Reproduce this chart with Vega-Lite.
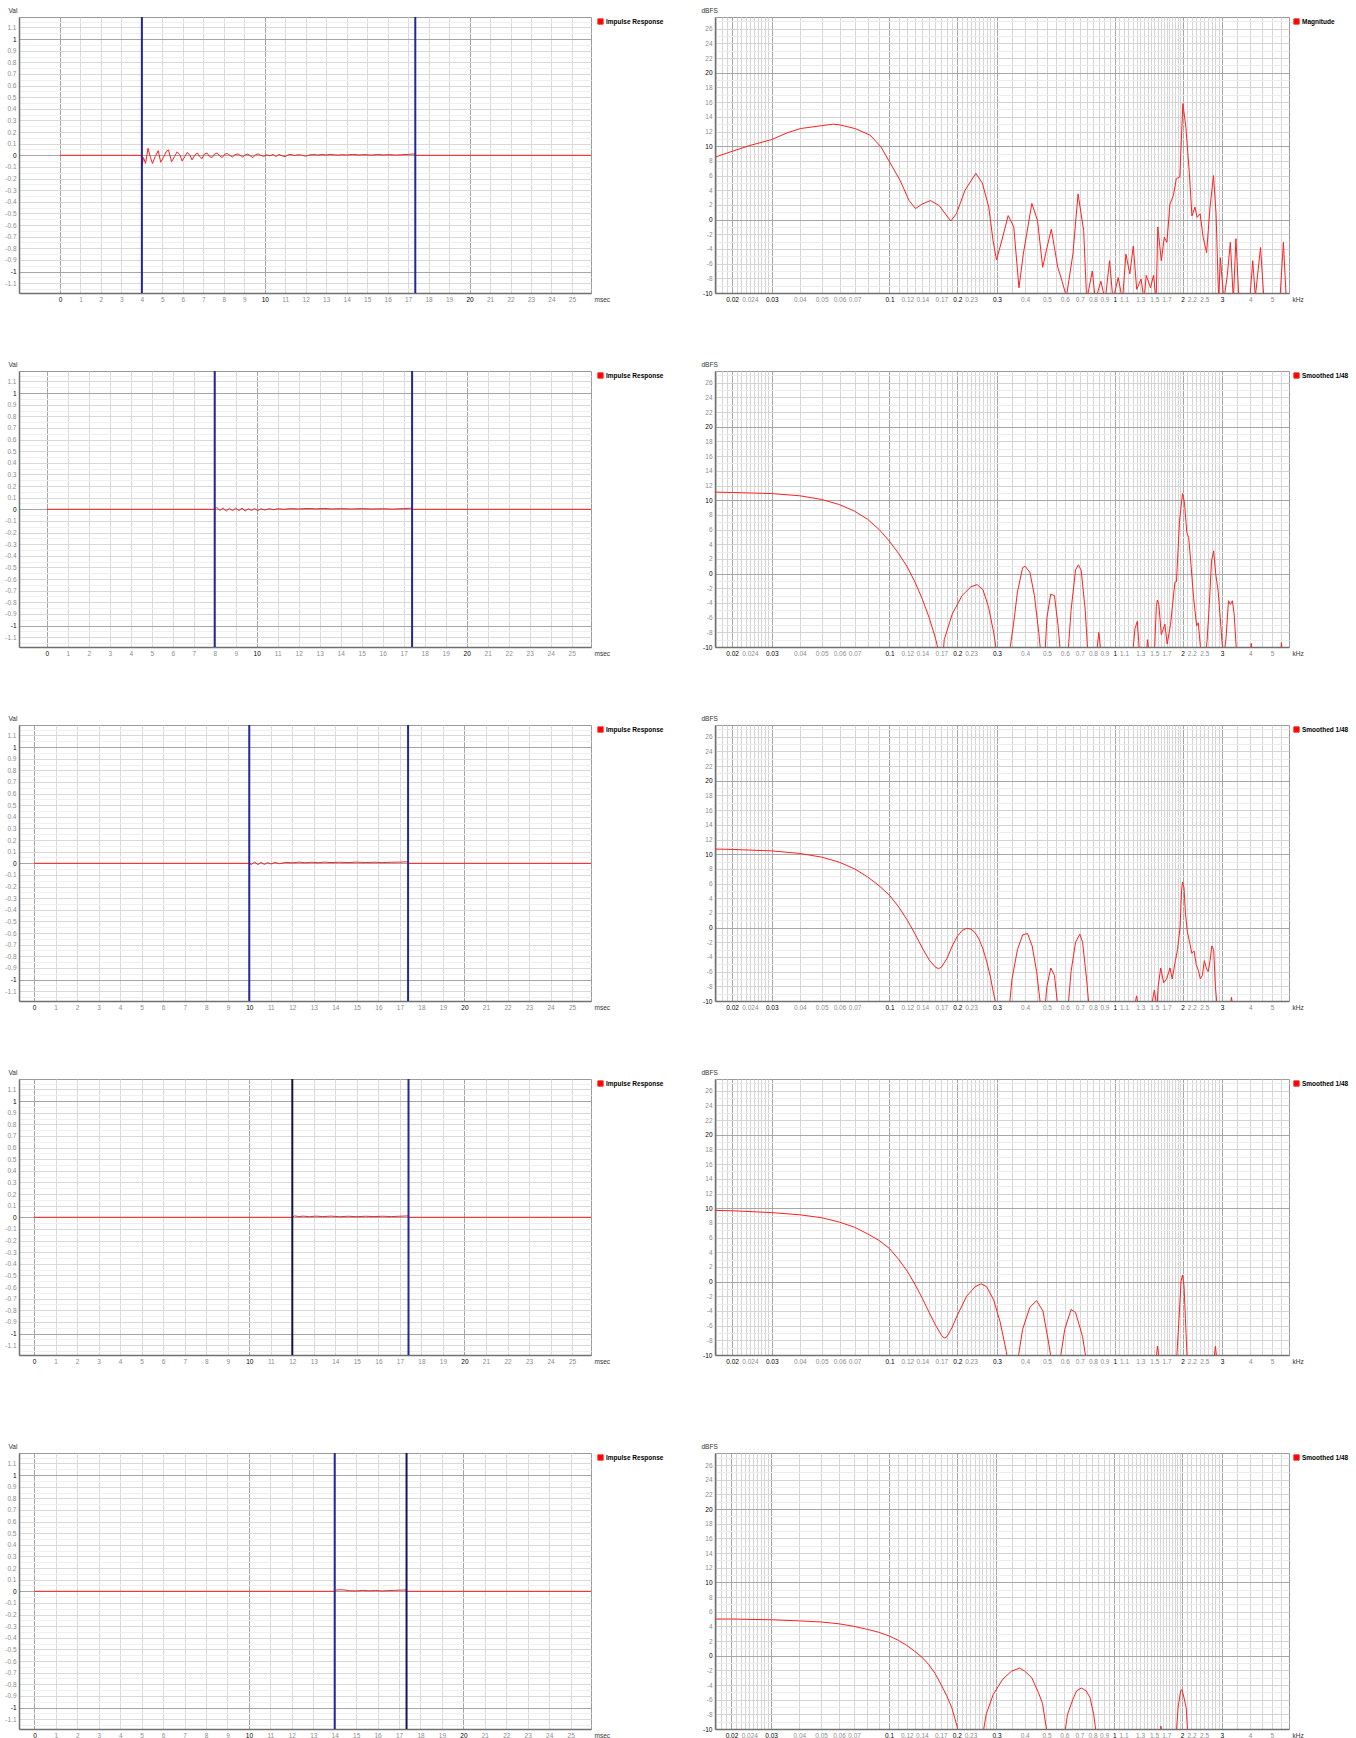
{
"$schema": "https://vega.github.io/schema/vega-lite/v6.json",
"background": "white",
"padding": {"left": 4, "top": 6, "right": 0, "bottom": 0},
"config": {
 "view": {"stroke": "#9a9a9a", "strokeWidth": 1},
 "axis": {"labelFont": "Liberation Sans", "labelFontSize": 6.5, "ticks": false, "domainColor": "#707070", "domainWidth": 1.5, "labelOverlap": false, "labelSeparation": 0, "labelBound": false, "labelFlush": false, "titleFont": "Liberation Sans", "titleFontSize": 6.5, "titleFontWeight": "normal", "titleColor": "#333333", "gridWidth": 1, "gridOpacity": 1},
 "legend": {"labelFont": "Liberation Sans", "labelFontSize": 6.5, "labelFontWeight": "bold", "labelColor": "#000000", "symbolType": "square", "symbolSize": 28, "symbolFillColor": "#ff0000", "symbolStrokeColor": "#ff0000", "symbolStrokeWidth": 1, "labelOffset": 2, "padding": 0, "title": null}
},
"datasets": {
 "ir1": [{"t":0,"v":0},{"t":4,"v":0},{"t":4.0,"v":-0.095},{"t":4.08,"v":-0.02},{"t":4.18,"v":-0.07},{"t":4.3,"v":0.06},{"t":4.42,"v":-0.02},{"t":4.52,"v":-0.07},{"t":4.65,"v":-0.01},{"t":4.8,"v":0.04},{"t":4.92,"v":-0.06},{"t":5.05,"v":-0.02},{"t":5.2,"v":0.035},{"t":5.3,"v":0.045},{"t":5.45,"v":-0.055},{"t":5.6,"v":-0.01},{"t":5.72,"v":0.03},{"t":5.85,"v":0.005},{"t":5.97,"v":-0.05},{"t":6.1,"v":-0.01},{"t":6.22,"v":0.025},{"t":6.35,"v":0.0},{"t":6.45,"v":-0.04},{"t":6.58,"v":0.0},{"t":6.7,"v":0.02},{"t":6.82,"v":-0.01},{"t":6.93,"v":-0.03},{"t":7.05,"v":0.01},{"t":7.18,"v":0.02},{"t":7.3,"v":-0.01},{"t":7.42,"v":-0.02},{"t":7.55,"v":0.01},{"t":7.68,"v":0.02},{"t":7.8,"v":-0.005},{"t":7.92,"v":-0.02},{"t":8.05,"v":0.01},{"t":8.18,"v":0.015},{"t":8.3,"v":0.0},{"t":8.42,"v":-0.015},{"t":8.55,"v":0.005},{"t":8.68,"v":0.012},{"t":8.8,"v":0.0},{"t":8.92,"v":-0.015},{"t":9.05,"v":0.005},{"t":9.17,"v":0.01},{"t":9.3,"v":-0.005},{"t":9.42,"v":-0.02},{"t":9.55,"v":0.005},{"t":9.68,"v":0.012},{"t":9.8,"v":0.0},{"t":9.95,"v":-0.01},{"t":10.1,"v":0.005},{"t":10.25,"v":-0.005},{"t":10.4,"v":0.008},{"t":10.55,"v":-0.01},{"t":10.7,"v":0.008},{"t":10.85,"v":-0.005},{"t":11.0,"v":-0.012},{"t":11.15,"v":0.005},{"t":11.3,"v":0.008},{"t":11.45,"v":-0.002},{"t":11.6,"v":0.005},{"t":11.8,"v":0.002},{"t":12.0,"v":-0.008},{"t":12.2,"v":0.004},{"t":12.4,"v":0.006},{"t":12.6,"v":0.002},{"t":12.8,"v":0.007},{"t":13.0,"v":0.003},{"t":13.2,"v":0.008},{"t":13.4,"v":0.004},{"t":13.6,"v":0.002},{"t":13.8,"v":0.006},{"t":14.0,"v":0.003},{"t":14.3,"v":0.008},{"t":14.6,"v":0.003},{"t":14.9,"v":0.006},{"t":15.2,"v":0.002},{"t":15.5,"v":0.007},{"t":15.8,"v":0.003},{"t":16.1,"v":0.006},{"t":16.4,"v":0.002},{"t":16.7,"v":0.005},{"t":17.0,"v":0.008},{"t":17.35,"v":0.012},{"t":17.36,"v":0},{"t":26.5,"v":0}],
 "ir2": [{"t":0,"v":0},{"t":8.0,"v":0.0},{"t":8.1,"v":0.015},{"t":8.25,"v":-0.01},{"t":8.4,"v":0.012},{"t":8.55,"v":-0.015},{"t":8.7,"v":0.008},{"t":8.85,"v":-0.012},{"t":9.0,"v":0.01},{"t":9.15,"v":-0.012},{"t":9.3,"v":0.01},{"t":9.45,"v":-0.015},{"t":9.6,"v":0.005},{"t":9.75,"v":-0.01},{"t":9.9,"v":0.006},{"t":10.05,"v":-0.012},{"t":10.2,"v":0.004},{"t":10.4,"v":-0.006},{"t":10.6,"v":0.006},{"t":10.8,"v":-0.004},{"t":11.0,"v":0.005},{"t":11.3,"v":0.0},{"t":11.6,"v":0.006},{"t":12.0,"v":0.003},{"t":12.4,"v":0.007},{"t":12.8,"v":0.004},{"t":13.2,"v":0.007},{"t":13.6,"v":0.003},{"t":14.0,"v":0.006},{"t":14.5,"v":0.003},{"t":15.0,"v":0.006},{"t":15.5,"v":0.003},{"t":16.0,"v":0.005},{"t":16.5,"v":0.002},{"t":17.0,"v":0.006},{"t":17.4,"v":0.01},{"t":17.41,"v":0},{"t":26.5,"v":0}],
 "ir3": [{"t":0,"v":0},{"t":10.0,"v":0.0},{"t":10.1,"v":-0.01},{"t":10.25,"v":0.012},{"t":10.4,"v":-0.012},{"t":10.55,"v":0.008},{"t":10.7,"v":-0.01},{"t":10.85,"v":0.006},{"t":11.0,"v":-0.006},{"t":11.2,"v":0.007},{"t":11.4,"v":-0.003},{"t":11.7,"v":0.008},{"t":12.0,"v":0.004},{"t":12.3,"v":0.01},{"t":12.6,"v":0.005},{"t":12.9,"v":0.009},{"t":13.2,"v":0.005},{"t":13.5,"v":0.01},{"t":13.8,"v":0.006},{"t":14.2,"v":0.009},{"t":14.6,"v":0.006},{"t":15.0,"v":0.01},{"t":15.4,"v":0.006},{"t":15.8,"v":0.009},{"t":16.2,"v":0.006},{"t":16.6,"v":0.009},{"t":17.0,"v":0.01},{"t":17.38,"v":0.013},{"t":17.39,"v":0},{"t":26.5,"v":0}],
 "ir4": [{"t":0,"v":0},{"t":12.0,"v":0.0},{"t":12.1,"v":0.012},{"t":12.3,"v":0.006},{"t":12.5,"v":0.01},{"t":12.8,"v":0.005},{"t":13.1,"v":0.01},{"t":13.4,"v":0.006},{"t":13.8,"v":0.01},{"t":14.2,"v":0.005},{"t":14.6,"v":0.009},{"t":15.0,"v":0.005},{"t":15.4,"v":0.009},{"t":15.8,"v":0.006},{"t":16.2,"v":0.009},{"t":16.6,"v":0.006},{"t":17.0,"v":0.009},{"t":17.4,"v":0.012},{"t":17.41,"v":0},{"t":26.5,"v":0}],
 "ir5": [{"t":0,"v":0},{"t":14.0,"v":0.0},{"t":14.1,"v":0.012},{"t":14.4,"v":0.012},{"t":14.7,"v":0.005},{"t":15.0,"v":0.003},{"t":15.3,"v":0.008},{"t":15.6,"v":0.004},{"t":15.9,"v":0.007},{"t":16.2,"v":0.003},{"t":16.5,"v":0.006},{"t":16.8,"v":0.008},{"t":17.1,"v":0.01},{"t":17.33,"v":0.012},{"t":17.34,"v":0},{"t":26.5,"v":0}],
 "mk1": [{"t":4,"c":"#25259c"},{"t":17.35,"c":"#25259c"}],
 "mk2": [{"t":8,"c":"#25259c"},{"t":17.4,"c":"#25259c"}],
 "mk3": [{"t":10,"c":"#25259c"},{"t":17.38,"c":"#25259c"}],
 "mk4": [{"t":12,"c":"#141440"},{"t":17.4,"c":"#25259c"}],
 "mk5": [{"t":14,"c":"#25259c"},{"t":17.35,"c":"#15155e"}],
 "fr1": [{"f":0.0168,"db":8.5},{"f":0.02,"db":9.3},{"f":0.024,"db":10.1},{"f":0.03,"db":10.9},{"f":0.035,"db":11.8},{"f":0.0402,"db":12.4},{"f":0.0501,"db":12.8},{"f":0.0564,"db":13.0},{"f":0.0603,"db":12.9},{"f":0.0704,"db":12.4},{"f":0.0821,"db":11.5},{"f":0.0917,"db":9.9},{"f":0.1001,"db":7.85},{"f":0.1117,"db":5.3},{"f":0.1221,"db":2.6},{"f":0.1304,"db":1.5},{"f":0.1393,"db":2.1},{"f":0.1522,"db":2.6},{"f":0.1662,"db":1.9},{"f":0.1872,"db":-0.2},{"f":0.1982,"db":0.8},{"f":0.2165,"db":4.0},{"f":0.2417,"db":6.3},{"f":0.2583,"db":5.0},{"f":0.2759,"db":1.7},{"f":0.2884,"db":-2.9},{"f":0.2987,"db":-5.5},{"f":0.3149,"db":-2.9},{"f":0.3365,"db":0.55},{"f":0.3563,"db":-1.0},{"f":0.3757,"db":-9.3},{"f":0.3927,"db":-4.7},{"f":0.4287,"db":2.2},{"f":0.4541,"db":-0.1},{"f":0.4789,"db":-6.5},{"f":0.5005,"db":-3.8},{"f":0.5231,"db":-1.3},{"f":0.5587,"db":-6.5},{"f":0.5839,"db":-8.4},{"f":0.6103,"db":-10.5},{"f":0.6521,"db":-4.7},{"f":0.6874,"db":3.5},{"f":0.728,"db":-1.5},{"f":0.7509,"db":-11},{"f":0.7954,"db":-7},{"f":0.8202,"db":-11},{"f":0.8683,"db":-8.4},{"f":0.9076,"db":-11},{"f":0.9484,"db":-5.6},{"f":0.9825,"db":-11},{"f":1.036,"db":-7.9},{"f":1.083,"db":-11},{"f":1.121,"db":-4.7},{"f":1.167,"db":-7.4},{"f":1.209,"db":-3.6},{"f":1.252,"db":-9.5},{"f":1.309,"db":-8.1},{"f":1.35,"db":-11},{"f":1.38,"db":-7.6},{"f":1.442,"db":-9.3},{"f":1.487,"db":-7.6},{"f":1.527,"db":-11},{"f":1.554,"db":-1.0},{"f":1.61,"db":-5.6},{"f":1.66,"db":-2.4},{"f":1.705,"db":-3.1},{"f":1.759,"db":2.1},{"f":1.822,"db":3.3},{"f":1.878,"db":5.6},{"f":1.946,"db":5.8},{"f":2.007,"db":15.8},{"f":2.07,"db":12.6},{"f":2.145,"db":6.3},{"f":2.202,"db":0.5},{"f":2.271,"db":1.7},{"f":2.322,"db":0.3},{"f":2.394,"db":0.8},{"f":2.47,"db":-2.4},{"f":2.558,"db":-4.5},{"f":2.65,"db":1.7},{"f":2.745,"db":6.0},{"f":2.818,"db":0.8},{"f":2.894,"db":-11},{"f":2.945,"db":-5.2},{"f":3.051,"db":-11},{"f":3.161,"db":-7.6},{"f":3.261,"db":-3.1},{"f":3.363,"db":-11},{"f":3.453,"db":-2.6},{"f":3.561,"db":-11},{"f":3.975,"db":-11},{"f":4.1,"db":-5.6},{"f":4.21,"db":-10.5},{"f":4.44,"db":-3.8},{"f":4.6,"db":-11},{"f":5.41,"db":-11},{"f":5.61,"db":-3.1},{"f":5.78,"db":-11},{"f":5.94,"db":-11}],
 "fr2": [{"f":0.0168,"db":11.1},{"f":0.02,"db":11.05},{"f":0.03,"db":10.9},{"f":0.04,"db":10.6},{"f":0.05,"db":10.1},{"f":0.06,"db":9.4},{"f":0.07,"db":8.5},{"f":0.08,"db":7.4},{"f":0.09,"db":6.0},{"f":0.1,"db":4.4},{"f":0.11,"db":2.7},{"f":0.12,"db":0.9},{"f":0.13,"db":-1.2},{"f":0.14,"db":-3.5},{"f":0.15,"db":-6},{"f":0.16,"db":-8.8},{"f":0.165,"db":-10.5},{"f":0.168,"db":-12},{"f":0.172,"db":-12},{"f":0.175,"db":-9},{"f":0.19,"db":-5.5},{"f":0.21,"db":-3},{"f":0.23,"db":-1.8},{"f":0.245,"db":-1.5},{"f":0.26,"db":-2.2},{"f":0.275,"db":-4.5},{"f":0.29,"db":-8},{"f":0.3,"db":-11},{"f":0.34,"db":-11},{"f":0.355,"db":-7},{"f":0.37,"db":-2.5},{"f":0.39,"db":0.8},{"f":0.4,"db":1.0},{"f":0.42,"db":0.2},{"f":0.44,"db":-3},{"f":0.46,"db":-8},{"f":0.47,"db":-11},{"f":0.49,"db":-11},{"f":0.5,"db":-6},{"f":0.52,"db":-2.8},{"f":0.54,"db":-3},{"f":0.56,"db":-7},{"f":0.575,"db":-11},{"f":0.62,"db":-11},{"f":0.64,"db":-5},{"f":0.67,"db":0.5},{"f":0.69,"db":1.2},{"f":0.71,"db":0.4},{"f":0.74,"db":-5},{"f":0.76,"db":-11},{"f":0.83,"db":-11},{"f":0.85,"db":-8},{"f":0.87,"db":-11},{"f":1.2,"db":-11},{"f":1.23,"db":-7.5},{"f":1.26,"db":-6.5},{"f":1.29,"db":-11},{"f":1.38,"db":-11},{"f":1.4,"db":-9},{"f":1.42,"db":-11},{"f":1.5,"db":-11},{"f":1.53,"db":-4.5},{"f":1.547,"db":-3.6},{"f":1.57,"db":-4.2},{"f":1.61,"db":-8.3},{"f":1.67,"db":-6.9},{"f":1.71,"db":-9.6},{"f":1.77,"db":-6.9},{"f":1.85,"db":-1.2},{"f":1.88,"db":-1.1},{"f":1.94,"db":7.2},{"f":2.0,"db":10.9},{"f":2.04,"db":9.7},{"f":2.09,"db":5.6},{"f":2.13,"db":4.9},{"f":2.18,"db":1.3},{"f":2.24,"db":-3.3},{"f":2.31,"db":-7.1},{"f":2.35,"db":-6.7},{"f":2.4,"db":-9.9},{"f":2.45,"db":-11},{"f":2.53,"db":-11},{"f":2.57,"db":-9.2},{"f":2.63,"db":-4.2},{"f":2.69,"db":1.7},{"f":2.75,"db":3.1},{"f":2.81,"db":-0.1},{"f":2.88,"db":-2.4},{"f":2.94,"db":-6},{"f":3.0,"db":-9.6},{"f":3.06,"db":-11},{"f":3.12,"db":-8.8},{"f":3.2,"db":-3.7},{"f":3.26,"db":-4.2},{"f":3.33,"db":-3.7},{"f":3.39,"db":-5.5},{"f":3.47,"db":-10.5},{"f":3.5,"db":-11},{"f":4.0,"db":-11},{"f":4.04,"db":-9.5},{"f":4.08,"db":-11},{"f":5.45,"db":-11},{"f":5.5,"db":-9.4},{"f":5.55,"db":-11},{"f":5.94,"db":-11}],
 "fr3": [{"f":0.0168,"db":10.7},{"f":0.02,"db":10.65},{"f":0.03,"db":10.45},{"f":0.04,"db":10.1},{"f":0.05,"db":9.6},{"f":0.06,"db":8.9},{"f":0.07,"db":8.0},{"f":0.08,"db":6.9},{"f":0.09,"db":5.7},{"f":0.1,"db":4.4},{"f":0.11,"db":2.8},{"f":0.12,"db":1.0},{"f":0.13,"db":-0.9},{"f":0.14,"db":-2.8},{"f":0.15,"db":-4.4},{"f":0.16,"db":-5.4},{"f":0.165,"db":-5.6},{"f":0.17,"db":-5.4},{"f":0.18,"db":-4.2},{"f":0.19,"db":-2.5},{"f":0.2,"db":-1.2},{"f":0.21,"db":-0.4},{"f":0.22,"db":-0.1},{"f":0.23,"db":-0.2},{"f":0.24,"db":-0.7},{"f":0.25,"db":-1.6},{"f":0.26,"db":-2.9},{"f":0.27,"db":-4.6},{"f":0.28,"db":-6.6},{"f":0.29,"db":-9},{"f":0.3,"db":-11},{"f":0.34,"db":-11},{"f":0.35,"db":-7},{"f":0.37,"db":-3},{"f":0.39,"db":-1.0},{"f":0.41,"db":-0.8},{"f":0.43,"db":-2.5},{"f":0.45,"db":-6},{"f":0.47,"db":-11},{"f":0.49,"db":-11},{"f":0.5,"db":-8},{"f":0.52,"db":-5.5},{"f":0.54,"db":-6.5},{"f":0.56,"db":-11},{"f":0.62,"db":-11},{"f":0.64,"db":-6},{"f":0.67,"db":-2},{"f":0.7,"db":-0.9},{"f":0.72,"db":-2},{"f":0.75,"db":-7},{"f":0.77,"db":-11},{"f":1.22,"db":-11},{"f":1.25,"db":-9.3},{"f":1.28,"db":-11},{"f":1.45,"db":-11},{"f":1.5,"db":-8.5},{"f":1.54,"db":-11},{"f":1.56,"db":-8},{"f":1.6,"db":-5.5},{"f":1.65,"db":-7.5},{"f":1.7,"db":-7},{"f":1.76,"db":-5.5},{"f":1.8,"db":-7},{"f":1.86,"db":-4.5},{"f":1.9,"db":-3},{"f":1.95,"db":0},{"f":1.98,"db":5},{"f":2.0,"db":6.2},{"f":2.03,"db":5.5},{"f":2.06,"db":2},{"f":2.1,"db":-0.5},{"f":2.15,"db":-2},{"f":2.2,"db":-3.5},{"f":2.25,"db":-3.2},{"f":2.3,"db":-5},{"f":2.35,"db":-5.8},{"f":2.4,"db":-7},{"f":2.45,"db":-6.5},{"f":2.5,"db":-4.5},{"f":2.55,"db":-5.5},{"f":2.6,"db":-6},{"f":2.65,"db":-4.5},{"f":2.7,"db":-2.5},{"f":2.75,"db":-3},{"f":2.8,"db":-8},{"f":2.85,"db":-11},{"f":3.25,"db":-11},{"f":3.3,"db":-9.5},{"f":3.35,"db":-11},{"f":5.94,"db":-11}],
 "fr4": [{"f":0.0168,"db":9.7},{"f":0.02,"db":9.65},{"f":0.03,"db":9.4},{"f":0.04,"db":9.1},{"f":0.05,"db":8.7},{"f":0.06,"db":8.1},{"f":0.07,"db":7.4},{"f":0.08,"db":6.5},{"f":0.09,"db":5.6},{"f":0.1,"db":4.5},{"f":0.11,"db":3.0},{"f":0.12,"db":1.4},{"f":0.13,"db":-0.4},{"f":0.14,"db":-2.3},{"f":0.15,"db":-4.2},{"f":0.16,"db":-5.9},{"f":0.17,"db":-7.3},{"f":0.175,"db":-7.7},{"f":0.18,"db":-7.5},{"f":0.19,"db":-6.2},{"f":0.2,"db":-4.6},{"f":0.22,"db":-2.0},{"f":0.24,"db":-0.7},{"f":0.255,"db":-0.3},{"f":0.27,"db":-0.7},{"f":0.29,"db":-2.5},{"f":0.31,"db":-5.5},{"f":0.33,"db":-9.5},{"f":0.335,"db":-11},{"f":0.37,"db":-11},{"f":0.39,"db":-6.5},{"f":0.42,"db":-3.5},{"f":0.45,"db":-2.6},{"f":0.48,"db":-4},{"f":0.51,"db":-8.5},{"f":0.525,"db":-11},{"f":0.57,"db":-11},{"f":0.6,"db":-6.5},{"f":0.64,"db":-3.8},{"f":0.67,"db":-4.2},{"f":0.72,"db":-7.5},{"f":0.75,"db":-11},{"f":1.52,"db":-11},{"f":1.55,"db":-8.8},{"f":1.58,"db":-11},{"f":1.88,"db":-11},{"f":1.93,"db":-5},{"f":1.97,"db":0},{"f":2.0,"db":0.9},{"f":2.03,"db":-0.5},{"f":2.06,"db":-5},{"f":2.1,"db":-11},{"f":2.75,"db":-11},{"f":2.8,"db":-8.8},{"f":2.85,"db":-11},{"f":5.94,"db":-11}],
 "fr5": [{"f":0.0168,"db":5.0},{"f":0.02,"db":5.0},{"f":0.03,"db":4.9},{"f":0.04,"db":4.75},{"f":0.05,"db":4.6},{"f":0.06,"db":4.35},{"f":0.07,"db":4.0},{"f":0.08,"db":3.6},{"f":0.09,"db":3.2},{"f":0.1,"db":2.7},{"f":0.11,"db":2.1},{"f":0.12,"db":1.4},{"f":0.13,"db":0.6},{"f":0.14,"db":-0.2},{"f":0.15,"db":-1.2},{"f":0.16,"db":-2.4},{"f":0.17,"db":-3.9},{"f":0.18,"db":-5.4},{"f":0.19,"db":-7.1},{"f":0.2,"db":-9.5},{"f":0.205,"db":-11},{"f":0.26,"db":-11},{"f":0.27,"db":-8},{"f":0.29,"db":-5.3},{"f":0.32,"db":-3.2},{"f":0.35,"db":-2.1},{"f":0.38,"db":-1.7},{"f":0.4,"db":-2.1},{"f":0.43,"db":-3.0},{"f":0.46,"db":-5},{"f":0.48,"db":-6.5},{"f":0.5,"db":-10},{"f":0.505,"db":-11},{"f":0.6,"db":-11},{"f":0.62,"db":-8},{"f":0.654,"db":-6},{"f":0.68,"db":-4.8},{"f":0.714,"db":-4.4},{"f":0.75,"db":-4.8},{"f":0.78,"db":-5.7},{"f":0.81,"db":-8},{"f":0.834,"db":-11},{"f":1.59,"db":-11},{"f":1.61,"db":-9.6},{"f":1.63,"db":-11},{"f":1.88,"db":-11},{"f":1.92,"db":-7},{"f":1.97,"db":-4.8},{"f":1.994,"db":-4.6},{"f":2.03,"db":-5.5},{"f":2.085,"db":-7.1},{"f":2.12,"db":-11},{"f":5.94,"db":-11}]
},
"resolve": {"scale": {"color": "independent"}, "legend": {"color": "independent"}},
"spacing": 77,
"vconcat": [
{"spacing": 57, "resolve": {"scale": {"color": "independent"}, "legend": {"color": "independent"}},
 "vconcat": [
 {"spacing": 35, "resolve": {"scale": {"color": "independent"}, "legend": {"color": "independent"}}, "hconcat": [
  {"width": 572, "height": 276, "layer": [
   {"data": {"name": "ir1"}, "mark": {"type": "line", "clip": true, "strokeWidth": 1},
    "encoding": {
     "x": {"field": "t", "type": "quantitative", "scale": {"domain": [-2.0, 25.93], "nice": false, "zero": false},
      "axis": {"values": [0,1,2,3,4,5,6,7,8,9,10,11,12,13,14,15,16,17,18,19,20,21,22,23,24,25], "labelExpr": "'' + datum.value", "labelOverlap": false, "grid": true, "gridColor": {"condition": {"test": "datum.value % 10 == 0", "value": "#a6a6a6"}, "value": "#dadada"}, "labelColor": {"condition": {"test": "datum.value % 10 == 0", "value": "#000000"}, "value": "#8c8c8c"}, "labelPadding": 3, "title": "msec", "titleX": 575, "titleY": 3, "titleAlign": "left", "titleBaseline": "top"}},
     "y": {"field": "v", "type": "quantitative", "scale": {"domain": [-1.185, 1.19], "nice": false, "zero": false},
      "axis": {"values": [-1.15,-1.1,-1.05,-1,-0.95,-0.9,-0.85,-0.8,-0.75,-0.7,-0.65,-0.6,-0.55,-0.5,-0.45,-0.4,-0.35,-0.3,-0.25,-0.2,-0.15,-0.1,-0.05,0,0.05,0.1,0.15,0.2,0.25,0.3,0.35,0.4,0.45,0.5,0.55,0.6,0.65,0.7,0.75,0.8,0.85,0.9,0.95,1,1.05,1.1,1.15], "labelOverlap": false, "grid": true, "gridColor": {"condition": [{"test": "abs(datum.value) == 1 || datum.value == 0", "value": "#a6a6a6"}, {"test": "abs(round(datum.value*100)) % 10 == 5", "value": "#efefef"}], "value": "#d9d9d9"}, "labelExpr": "abs(round(datum.value*100)) % 10 == 5 ? '' : '' + datum.value", "labelColor": {"condition": {"test": "abs(datum.value) == 1 || datum.value == 0", "value": "#000000"}, "value": "#8c8c8c"}, "labelPadding": 3, "title": "Val", "titleAngle": 0, "titleX": -11, "titleY": -5, "titleAlign": "left", "titleBaseline": "alphabetic"}},
     "color": {"datum": "Impulse Response", "type": "nominal", "scale": {"range": ["#ff2020"]}, "legend": {"orient": "none", "legendX": 578, "legendY": 1}}
    }},
   {"data": {"name": "mk1"}, "mark": {"type": "rule", "strokeWidth": 2}, "encoding": {"x": {"field": "t", "type": "quantitative", "axis": {"values": [0,1,2,3,4,5,6,7,8,9,10,11,12,13,14,15,16,17,18,19,20,21,22,23,24,25], "labelExpr": "'' + datum.value", "labelOverlap": false, "grid": true, "gridColor": {"condition": {"test": "datum.value % 10 == 0", "value": "#a6a6a6"}, "value": "#dadada"}, "labelColor": {"condition": {"test": "datum.value % 10 == 0", "value": "#000000"}, "value": "#8c8c8c"}, "labelPadding": 3, "title": "msec", "titleX": 575, "titleY": 3, "titleAlign": "left", "titleBaseline": "top"}}, "stroke": {"field": "c", "type": "nominal", "scale": null}}}
  ]},
  {"width": 574, "height": 276, "layer": [
   {"data": {"name": "fr1"}, "mark": {"type": "line", "clip": true, "strokeWidth": 1},
    "encoding": {
     "x": {"field": "f", "type": "quantitative", "scale": {"type": "log", "domain": [0.0168, 5.94], "nice": false},
      "axis": {"values": [0.017,0.018,0.019,0.02,0.021,0.022,0.023,0.024,0.025,0.026,0.027,0.028,0.029,0.03,0.04,0.05,0.06,0.07,0.08,0.09,0.1,0.11,0.12,0.13,0.14,0.15,0.16,0.17,0.18,0.19,0.2,0.21,0.22,0.23,0.24,0.25,0.26,0.27,0.28,0.29,0.3,0.35,0.4,0.45,0.5,0.55,0.6,0.65,0.7,0.75,0.8,0.85,0.9,0.95,1,1.05,1.1,1.15,1.2,1.25,1.3,1.35,1.4,1.45,1.5,1.55,1.6,1.65,1.7,1.75,1.8,1.85,1.9,1.95,2,2.1,2.2,2.3,2.4,2.5,2.6,2.7,2.8,2.9,3,3.5,4,4.5,5,5.5], "labelOverlap": false, "grid": true, "gridColor": {"condition": {"test": "indexof([0.02,0.03,0.1,0.2,0.3,1,2,3], datum.value) >= 0", "value": "#a6a6a6"}, "value": "#d6d6d6"}, "labelExpr": "indexof([0.02,0.024,0.03,0.04,0.05,0.06,0.07,0.1,0.12,0.14,0.17,0.2,0.23,0.3,0.4,0.5,0.6,0.7,0.8,0.9,1,1.1,1.3,1.5,1.7,2,2.2,2.5,3,4,5], datum.value) >= 0 ? '' + datum.value : ''", "labelColor": {"condition": {"test": "indexof([0.02,0.03,0.1,0.2,0.3,1,2,3], datum.value) >= 0", "value": "#000000"}, "value": "#8c8c8c"}, "labelPadding": 3, "title": "kHz", "titleX": 577, "titleY": 3, "titleAlign": "left", "titleBaseline": "top"}},
     "y": {"field": "db", "type": "quantitative", "scale": {"domain": [-10, 27.6], "nice": false, "zero": false},
      "axis": {"values": [-10,-9,-8,-7,-6,-5,-4,-3,-2,-1,0,1,2,3,4,5,6,7,8,9,10,11,12,13,14,15,16,17,18,19,20,21,22,23,24,25,26,27], "labelOverlap": false, "grid": true, "gridColor": {"condition": [{"test": "datum.value == 20 || datum.value == 10 || datum.value == 0", "value": "#a6a6a6"}, {"test": "abs(datum.value) % 2 == 1", "value": "#ececec"}], "value": "#d4d4d4"}, "labelExpr": "abs(datum.value) % 2 == 1 ? '' : '' + datum.value", "labelColor": {"condition": {"test": "datum.value % 10 == 0", "value": "#000000"}, "value": "#8c8c8c"}, "labelPadding": 3, "title": "dBFS", "titleAngle": 0, "titleX": -14, "titleY": -5, "titleAlign": "left", "titleBaseline": "alphabetic"}},
     "color": {"datum": "Magnitude", "type": "nominal", "scale": {"range": ["#ff2020"]}, "legend": {"orient": "none", "legendX": 578, "legendY": 1}}
    }}
  ]}
 ]},
 {"spacing": 35, "resolve": {"scale": {"color": "independent"}, "legend": {"color": "independent"}}, "hconcat": [
  {"width": 572, "height": 276, "layer": [
   {"data": {"name": "ir2"}, "mark": {"type": "line", "clip": true, "strokeWidth": 1},
    "encoding": {
     "x": {"field": "t", "type": "quantitative", "scale": {"domain": [-1.32, 25.92], "nice": false, "zero": false},
      "axis": {"values": [0,1,2,3,4,5,6,7,8,9,10,11,12,13,14,15,16,17,18,19,20,21,22,23,24,25], "labelExpr": "'' + datum.value", "labelOverlap": false, "grid": true, "gridColor": {"condition": {"test": "datum.value % 10 == 0", "value": "#a6a6a6"}, "value": "#dadada"}, "labelColor": {"condition": {"test": "datum.value % 10 == 0", "value": "#000000"}, "value": "#8c8c8c"}, "labelPadding": 3, "title": "msec", "titleX": 575, "titleY": 3, "titleAlign": "left", "titleBaseline": "top"}},
     "y": {"field": "v", "type": "quantitative", "scale": {"domain": [-1.185, 1.19], "nice": false, "zero": false},
      "axis": {"values": [-1.15,-1.1,-1.05,-1,-0.95,-0.9,-0.85,-0.8,-0.75,-0.7,-0.65,-0.6,-0.55,-0.5,-0.45,-0.4,-0.35,-0.3,-0.25,-0.2,-0.15,-0.1,-0.05,0,0.05,0.1,0.15,0.2,0.25,0.3,0.35,0.4,0.45,0.5,0.55,0.6,0.65,0.7,0.75,0.8,0.85,0.9,0.95,1,1.05,1.1,1.15], "labelOverlap": false, "grid": true, "gridColor": {"condition": [{"test": "abs(datum.value) == 1 || datum.value == 0", "value": "#a6a6a6"}, {"test": "abs(round(datum.value*100)) % 10 == 5", "value": "#efefef"}], "value": "#d9d9d9"}, "labelExpr": "abs(round(datum.value*100)) % 10 == 5 ? '' : '' + datum.value", "labelColor": {"condition": {"test": "abs(datum.value) == 1 || datum.value == 0", "value": "#000000"}, "value": "#8c8c8c"}, "labelPadding": 3, "title": "Val", "titleAngle": 0, "titleX": -11, "titleY": -5, "titleAlign": "left", "titleBaseline": "alphabetic"}},
     "color": {"datum": "Impulse Response", "type": "nominal", "scale": {"range": ["#ff2020"]}, "legend": {"orient": "none", "legendX": 578, "legendY": 1}}
    }},
   {"data": {"name": "mk2"}, "mark": {"type": "rule", "strokeWidth": 2}, "encoding": {"x": {"field": "t", "type": "quantitative", "axis": {"values": [0,1,2,3,4,5,6,7,8,9,10,11,12,13,14,15,16,17,18,19,20,21,22,23,24,25], "labelExpr": "'' + datum.value", "labelOverlap": false, "grid": true, "gridColor": {"condition": {"test": "datum.value % 10 == 0", "value": "#a6a6a6"}, "value": "#dadada"}, "labelColor": {"condition": {"test": "datum.value % 10 == 0", "value": "#000000"}, "value": "#8c8c8c"}, "labelPadding": 3, "title": "msec", "titleX": 575, "titleY": 3, "titleAlign": "left", "titleBaseline": "top"}}, "stroke": {"field": "c", "type": "nominal", "scale": null}}}
  ]},
  {"width": 574, "height": 276, "layer": [
   {"data": {"name": "fr2"}, "mark": {"type": "line", "clip": true, "strokeWidth": 1},
    "encoding": {
     "x": {"field": "f", "type": "quantitative", "scale": {"type": "log", "domain": [0.0168, 5.94], "nice": false},
      "axis": {"values": [0.017,0.018,0.019,0.02,0.021,0.022,0.023,0.024,0.025,0.026,0.027,0.028,0.029,0.03,0.04,0.05,0.06,0.07,0.08,0.09,0.1,0.11,0.12,0.13,0.14,0.15,0.16,0.17,0.18,0.19,0.2,0.21,0.22,0.23,0.24,0.25,0.26,0.27,0.28,0.29,0.3,0.35,0.4,0.45,0.5,0.55,0.6,0.65,0.7,0.75,0.8,0.85,0.9,0.95,1,1.05,1.1,1.15,1.2,1.25,1.3,1.35,1.4,1.45,1.5,1.55,1.6,1.65,1.7,1.75,1.8,1.85,1.9,1.95,2,2.1,2.2,2.3,2.4,2.5,2.6,2.7,2.8,2.9,3,3.5,4,4.5,5,5.5], "labelOverlap": false, "grid": true, "gridColor": {"condition": {"test": "indexof([0.02,0.03,0.1,0.2,0.3,1,2,3], datum.value) >= 0", "value": "#a6a6a6"}, "value": "#d6d6d6"}, "labelExpr": "indexof([0.02,0.024,0.03,0.04,0.05,0.06,0.07,0.1,0.12,0.14,0.17,0.2,0.23,0.3,0.4,0.5,0.6,0.7,0.8,0.9,1,1.1,1.3,1.5,1.7,2,2.2,2.5,3,4,5], datum.value) >= 0 ? '' + datum.value : ''", "labelColor": {"condition": {"test": "indexof([0.02,0.03,0.1,0.2,0.3,1,2,3], datum.value) >= 0", "value": "#000000"}, "value": "#8c8c8c"}, "labelPadding": 3, "title": "kHz", "titleX": 577, "titleY": 3, "titleAlign": "left", "titleBaseline": "top"}},
     "y": {"field": "db", "type": "quantitative", "scale": {"domain": [-10, 27.6], "nice": false, "zero": false},
      "axis": {"values": [-10,-9,-8,-7,-6,-5,-4,-3,-2,-1,0,1,2,3,4,5,6,7,8,9,10,11,12,13,14,15,16,17,18,19,20,21,22,23,24,25,26,27], "labelOverlap": false, "grid": true, "gridColor": {"condition": [{"test": "datum.value == 20 || datum.value == 10 || datum.value == 0", "value": "#a6a6a6"}, {"test": "abs(datum.value) % 2 == 1", "value": "#ececec"}], "value": "#d4d4d4"}, "labelExpr": "abs(datum.value) % 2 == 1 ? '' : '' + datum.value", "labelColor": {"condition": {"test": "datum.value % 10 == 0", "value": "#000000"}, "value": "#8c8c8c"}, "labelPadding": 3, "title": "dBFS", "titleAngle": 0, "titleX": -14, "titleY": -5, "titleAlign": "left", "titleBaseline": "alphabetic"}},
     "color": {"datum": "Smoothed 1/48", "type": "nominal", "scale": {"range": ["#ff2020"]}, "legend": {"orient": "none", "legendX": 578, "legendY": 1}}
    }}
  ]}
 ]},
 {"spacing": 35, "resolve": {"scale": {"color": "independent"}, "legend": {"color": "independent"}}, "hconcat": [
  {"width": 572, "height": 276, "layer": [
   {"data": {"name": "ir3"}, "mark": {"type": "line", "clip": true, "strokeWidth": 1},
    "encoding": {
     "x": {"field": "t", "type": "quantitative", "scale": {"domain": [-0.7, 25.88], "nice": false, "zero": false},
      "axis": {"values": [0,1,2,3,4,5,6,7,8,9,10,11,12,13,14,15,16,17,18,19,20,21,22,23,24,25], "labelExpr": "'' + datum.value", "labelOverlap": false, "grid": true, "gridColor": {"condition": {"test": "datum.value % 10 == 0", "value": "#a6a6a6"}, "value": "#dadada"}, "labelColor": {"condition": {"test": "datum.value % 10 == 0", "value": "#000000"}, "value": "#8c8c8c"}, "labelPadding": 3, "title": "msec", "titleX": 575, "titleY": 3, "titleAlign": "left", "titleBaseline": "top"}},
     "y": {"field": "v", "type": "quantitative", "scale": {"domain": [-1.185, 1.19], "nice": false, "zero": false},
      "axis": {"values": [-1.15,-1.1,-1.05,-1,-0.95,-0.9,-0.85,-0.8,-0.75,-0.7,-0.65,-0.6,-0.55,-0.5,-0.45,-0.4,-0.35,-0.3,-0.25,-0.2,-0.15,-0.1,-0.05,0,0.05,0.1,0.15,0.2,0.25,0.3,0.35,0.4,0.45,0.5,0.55,0.6,0.65,0.7,0.75,0.8,0.85,0.9,0.95,1,1.05,1.1,1.15], "labelOverlap": false, "grid": true, "gridColor": {"condition": [{"test": "abs(datum.value) == 1 || datum.value == 0", "value": "#a6a6a6"}, {"test": "abs(round(datum.value*100)) % 10 == 5", "value": "#efefef"}], "value": "#d9d9d9"}, "labelExpr": "abs(round(datum.value*100)) % 10 == 5 ? '' : '' + datum.value", "labelColor": {"condition": {"test": "abs(datum.value) == 1 || datum.value == 0", "value": "#000000"}, "value": "#8c8c8c"}, "labelPadding": 3, "title": "Val", "titleAngle": 0, "titleX": -11, "titleY": -5, "titleAlign": "left", "titleBaseline": "alphabetic"}},
     "color": {"datum": "Impulse Response", "type": "nominal", "scale": {"range": ["#ff2020"]}, "legend": {"orient": "none", "legendX": 578, "legendY": 1}}
    }},
   {"data": {"name": "mk3"}, "mark": {"type": "rule", "strokeWidth": 2}, "encoding": {"x": {"field": "t", "type": "quantitative", "axis": {"values": [0,1,2,3,4,5,6,7,8,9,10,11,12,13,14,15,16,17,18,19,20,21,22,23,24,25], "labelExpr": "'' + datum.value", "labelOverlap": false, "grid": true, "gridColor": {"condition": {"test": "datum.value % 10 == 0", "value": "#a6a6a6"}, "value": "#dadada"}, "labelColor": {"condition": {"test": "datum.value % 10 == 0", "value": "#000000"}, "value": "#8c8c8c"}, "labelPadding": 3, "title": "msec", "titleX": 575, "titleY": 3, "titleAlign": "left", "titleBaseline": "top"}}, "stroke": {"field": "c", "type": "nominal", "scale": null}}}
  ]},
  {"width": 574, "height": 276, "layer": [
   {"data": {"name": "fr3"}, "mark": {"type": "line", "clip": true, "strokeWidth": 1},
    "encoding": {
     "x": {"field": "f", "type": "quantitative", "scale": {"type": "log", "domain": [0.0168, 5.94], "nice": false},
      "axis": {"values": [0.017,0.018,0.019,0.02,0.021,0.022,0.023,0.024,0.025,0.026,0.027,0.028,0.029,0.03,0.04,0.05,0.06,0.07,0.08,0.09,0.1,0.11,0.12,0.13,0.14,0.15,0.16,0.17,0.18,0.19,0.2,0.21,0.22,0.23,0.24,0.25,0.26,0.27,0.28,0.29,0.3,0.35,0.4,0.45,0.5,0.55,0.6,0.65,0.7,0.75,0.8,0.85,0.9,0.95,1,1.05,1.1,1.15,1.2,1.25,1.3,1.35,1.4,1.45,1.5,1.55,1.6,1.65,1.7,1.75,1.8,1.85,1.9,1.95,2,2.1,2.2,2.3,2.4,2.5,2.6,2.7,2.8,2.9,3,3.5,4,4.5,5,5.5], "labelOverlap": false, "grid": true, "gridColor": {"condition": {"test": "indexof([0.02,0.03,0.1,0.2,0.3,1,2,3], datum.value) >= 0", "value": "#a6a6a6"}, "value": "#d6d6d6"}, "labelExpr": "indexof([0.02,0.024,0.03,0.04,0.05,0.06,0.07,0.1,0.12,0.14,0.17,0.2,0.23,0.3,0.4,0.5,0.6,0.7,0.8,0.9,1,1.1,1.3,1.5,1.7,2,2.2,2.5,3,4,5], datum.value) >= 0 ? '' + datum.value : ''", "labelColor": {"condition": {"test": "indexof([0.02,0.03,0.1,0.2,0.3,1,2,3], datum.value) >= 0", "value": "#000000"}, "value": "#8c8c8c"}, "labelPadding": 3, "title": "kHz", "titleX": 577, "titleY": 3, "titleAlign": "left", "titleBaseline": "top"}},
     "y": {"field": "db", "type": "quantitative", "scale": {"domain": [-10, 27.6], "nice": false, "zero": false},
      "axis": {"values": [-10,-9,-8,-7,-6,-5,-4,-3,-2,-1,0,1,2,3,4,5,6,7,8,9,10,11,12,13,14,15,16,17,18,19,20,21,22,23,24,25,26,27], "labelOverlap": false, "grid": true, "gridColor": {"condition": [{"test": "datum.value == 20 || datum.value == 10 || datum.value == 0", "value": "#a6a6a6"}, {"test": "abs(datum.value) % 2 == 1", "value": "#ececec"}], "value": "#d4d4d4"}, "labelExpr": "abs(datum.value) % 2 == 1 ? '' : '' + datum.value", "labelColor": {"condition": {"test": "datum.value % 10 == 0", "value": "#000000"}, "value": "#8c8c8c"}, "labelPadding": 3, "title": "dBFS", "titleAngle": 0, "titleX": -14, "titleY": -5, "titleAlign": "left", "titleBaseline": "alphabetic"}},
     "color": {"datum": "Smoothed 1/48", "type": "nominal", "scale": {"range": ["#ff2020"]}, "legend": {"orient": "none", "legendX": 578, "legendY": 1}}
    }}
  ]}
 ]},
 {"spacing": 35, "resolve": {"scale": {"color": "independent"}, "legend": {"color": "independent"}}, "hconcat": [
  {"width": 572, "height": 276, "layer": [
   {"data": {"name": "ir4"}, "mark": {"type": "line", "clip": true, "strokeWidth": 1},
    "encoding": {
     "x": {"field": "t", "type": "quantitative", "scale": {"domain": [-0.7, 25.88], "nice": false, "zero": false},
      "axis": {"values": [0,1,2,3,4,5,6,7,8,9,10,11,12,13,14,15,16,17,18,19,20,21,22,23,24,25], "labelExpr": "'' + datum.value", "labelOverlap": false, "grid": true, "gridColor": {"condition": {"test": "datum.value % 10 == 0", "value": "#a6a6a6"}, "value": "#dadada"}, "labelColor": {"condition": {"test": "datum.value % 10 == 0", "value": "#000000"}, "value": "#8c8c8c"}, "labelPadding": 3, "title": "msec", "titleX": 575, "titleY": 3, "titleAlign": "left", "titleBaseline": "top"}},
     "y": {"field": "v", "type": "quantitative", "scale": {"domain": [-1.185, 1.19], "nice": false, "zero": false},
      "axis": {"values": [-1.15,-1.1,-1.05,-1,-0.95,-0.9,-0.85,-0.8,-0.75,-0.7,-0.65,-0.6,-0.55,-0.5,-0.45,-0.4,-0.35,-0.3,-0.25,-0.2,-0.15,-0.1,-0.05,0,0.05,0.1,0.15,0.2,0.25,0.3,0.35,0.4,0.45,0.5,0.55,0.6,0.65,0.7,0.75,0.8,0.85,0.9,0.95,1,1.05,1.1,1.15], "labelOverlap": false, "grid": true, "gridColor": {"condition": [{"test": "abs(datum.value) == 1 || datum.value == 0", "value": "#a6a6a6"}, {"test": "abs(round(datum.value*100)) % 10 == 5", "value": "#efefef"}], "value": "#d9d9d9"}, "labelExpr": "abs(round(datum.value*100)) % 10 == 5 ? '' : '' + datum.value", "labelColor": {"condition": {"test": "abs(datum.value) == 1 || datum.value == 0", "value": "#000000"}, "value": "#8c8c8c"}, "labelPadding": 3, "title": "Val", "titleAngle": 0, "titleX": -11, "titleY": -5, "titleAlign": "left", "titleBaseline": "alphabetic"}},
     "color": {"datum": "Impulse Response", "type": "nominal", "scale": {"range": ["#ff2020"]}, "legend": {"orient": "none", "legendX": 578, "legendY": 1}}
    }},
   {"data": {"name": "mk4"}, "mark": {"type": "rule", "strokeWidth": 2}, "encoding": {"x": {"field": "t", "type": "quantitative", "axis": {"values": [0,1,2,3,4,5,6,7,8,9,10,11,12,13,14,15,16,17,18,19,20,21,22,23,24,25], "labelExpr": "'' + datum.value", "labelOverlap": false, "grid": true, "gridColor": {"condition": {"test": "datum.value % 10 == 0", "value": "#a6a6a6"}, "value": "#dadada"}, "labelColor": {"condition": {"test": "datum.value % 10 == 0", "value": "#000000"}, "value": "#8c8c8c"}, "labelPadding": 3, "title": "msec", "titleX": 575, "titleY": 3, "titleAlign": "left", "titleBaseline": "top"}}, "stroke": {"field": "c", "type": "nominal", "scale": null}}}
  ]},
  {"width": 574, "height": 276, "layer": [
   {"data": {"name": "fr4"}, "mark": {"type": "line", "clip": true, "strokeWidth": 1},
    "encoding": {
     "x": {"field": "f", "type": "quantitative", "scale": {"type": "log", "domain": [0.0168, 5.94], "nice": false},
      "axis": {"values": [0.017,0.018,0.019,0.02,0.021,0.022,0.023,0.024,0.025,0.026,0.027,0.028,0.029,0.03,0.04,0.05,0.06,0.07,0.08,0.09,0.1,0.11,0.12,0.13,0.14,0.15,0.16,0.17,0.18,0.19,0.2,0.21,0.22,0.23,0.24,0.25,0.26,0.27,0.28,0.29,0.3,0.35,0.4,0.45,0.5,0.55,0.6,0.65,0.7,0.75,0.8,0.85,0.9,0.95,1,1.05,1.1,1.15,1.2,1.25,1.3,1.35,1.4,1.45,1.5,1.55,1.6,1.65,1.7,1.75,1.8,1.85,1.9,1.95,2,2.1,2.2,2.3,2.4,2.5,2.6,2.7,2.8,2.9,3,3.5,4,4.5,5,5.5], "labelOverlap": false, "grid": true, "gridColor": {"condition": {"test": "indexof([0.02,0.03,0.1,0.2,0.3,1,2,3], datum.value) >= 0", "value": "#a6a6a6"}, "value": "#d6d6d6"}, "labelExpr": "indexof([0.02,0.024,0.03,0.04,0.05,0.06,0.07,0.1,0.12,0.14,0.17,0.2,0.23,0.3,0.4,0.5,0.6,0.7,0.8,0.9,1,1.1,1.3,1.5,1.7,2,2.2,2.5,3,4,5], datum.value) >= 0 ? '' + datum.value : ''", "labelColor": {"condition": {"test": "indexof([0.02,0.03,0.1,0.2,0.3,1,2,3], datum.value) >= 0", "value": "#000000"}, "value": "#8c8c8c"}, "labelPadding": 3, "title": "kHz", "titleX": 577, "titleY": 3, "titleAlign": "left", "titleBaseline": "top"}},
     "y": {"field": "db", "type": "quantitative", "scale": {"domain": [-10, 27.6], "nice": false, "zero": false},
      "axis": {"values": [-10,-9,-8,-7,-6,-5,-4,-3,-2,-1,0,1,2,3,4,5,6,7,8,9,10,11,12,13,14,15,16,17,18,19,20,21,22,23,24,25,26,27], "labelOverlap": false, "grid": true, "gridColor": {"condition": [{"test": "datum.value == 20 || datum.value == 10 || datum.value == 0", "value": "#a6a6a6"}, {"test": "abs(datum.value) % 2 == 1", "value": "#ececec"}], "value": "#d4d4d4"}, "labelExpr": "abs(datum.value) % 2 == 1 ? '' : '' + datum.value", "labelColor": {"condition": {"test": "datum.value % 10 == 0", "value": "#000000"}, "value": "#8c8c8c"}, "labelPadding": 3, "title": "dBFS", "titleAngle": 0, "titleX": -14, "titleY": -5, "titleAlign": "left", "titleBaseline": "alphabetic"}},
     "color": {"datum": "Smoothed 1/48", "type": "nominal", "scale": {"range": ["#ff2020"]}, "legend": {"orient": "none", "legendX": 578, "legendY": 1}}
    }}
  ]}
 ]}
 ]},
 {"spacing": 35, "resolve": {"scale": {"color": "independent"}, "legend": {"color": "independent"}}, "hconcat": [
  {"width": 572, "height": 276, "layer": [
   {"data": {"name": "ir5"}, "mark": {"type": "line", "clip": true, "strokeWidth": 1},
    "encoding": {
     "x": {"field": "t", "type": "quantitative", "scale": {"domain": [-0.72, 25.95], "nice": false, "zero": false},
      "axis": {"values": [0,1,2,3,4,5,6,7,8,9,10,11,12,13,14,15,16,17,18,19,20,21,22,23,24,25], "labelExpr": "'' + datum.value", "labelOverlap": false, "grid": true, "gridColor": {"condition": {"test": "datum.value % 10 == 0", "value": "#a6a6a6"}, "value": "#dadada"}, "labelColor": {"condition": {"test": "datum.value % 10 == 0", "value": "#000000"}, "value": "#8c8c8c"}, "labelPadding": 3, "title": "msec", "titleX": 575, "titleY": 3, "titleAlign": "left", "titleBaseline": "top"}},
     "y": {"field": "v", "type": "quantitative", "scale": {"domain": [-1.185, 1.19], "nice": false, "zero": false},
      "axis": {"values": [-1.15,-1.1,-1.05,-1,-0.95,-0.9,-0.85,-0.8,-0.75,-0.7,-0.65,-0.6,-0.55,-0.5,-0.45,-0.4,-0.35,-0.3,-0.25,-0.2,-0.15,-0.1,-0.05,0,0.05,0.1,0.15,0.2,0.25,0.3,0.35,0.4,0.45,0.5,0.55,0.6,0.65,0.7,0.75,0.8,0.85,0.9,0.95,1,1.05,1.1,1.15], "labelOverlap": false, "grid": true, "gridColor": {"condition": [{"test": "abs(datum.value) == 1 || datum.value == 0", "value": "#a6a6a6"}, {"test": "abs(round(datum.value*100)) % 10 == 5", "value": "#efefef"}], "value": "#d9d9d9"}, "labelExpr": "abs(round(datum.value*100)) % 10 == 5 ? '' : '' + datum.value", "labelColor": {"condition": {"test": "abs(datum.value) == 1 || datum.value == 0", "value": "#000000"}, "value": "#8c8c8c"}, "labelPadding": 3, "title": "Val", "titleAngle": 0, "titleX": -11, "titleY": -5, "titleAlign": "left", "titleBaseline": "alphabetic"}},
     "color": {"datum": "Impulse Response", "type": "nominal", "scale": {"range": ["#ff2020"]}, "legend": {"orient": "none", "legendX": 578, "legendY": 1}}
    }},
   {"data": {"name": "mk5"}, "mark": {"type": "rule", "strokeWidth": 2}, "encoding": {"x": {"field": "t", "type": "quantitative", "axis": {"values": [0,1,2,3,4,5,6,7,8,9,10,11,12,13,14,15,16,17,18,19,20,21,22,23,24,25], "labelExpr": "'' + datum.value", "labelOverlap": false, "grid": true, "gridColor": {"condition": {"test": "datum.value % 10 == 0", "value": "#a6a6a6"}, "value": "#dadada"}, "labelColor": {"condition": {"test": "datum.value % 10 == 0", "value": "#000000"}, "value": "#8c8c8c"}, "labelPadding": 3, "title": "msec", "titleX": 575, "titleY": 3, "titleAlign": "left", "titleBaseline": "top"}}, "stroke": {"field": "c", "type": "nominal", "scale": null}}}
  ]},
  {"width": 574, "height": 276, "layer": [
   {"data": {"name": "fr5"}, "mark": {"type": "line", "clip": true, "strokeWidth": 1},
    "encoding": {
     "x": {"field": "f", "type": "quantitative", "scale": {"type": "log", "domain": [0.0169, 5.96], "nice": false},
      "axis": {"values": [0.017,0.018,0.019,0.02,0.021,0.022,0.023,0.024,0.025,0.026,0.027,0.028,0.029,0.03,0.04,0.05,0.06,0.07,0.08,0.09,0.1,0.11,0.12,0.13,0.14,0.15,0.16,0.17,0.18,0.19,0.2,0.21,0.22,0.23,0.24,0.25,0.26,0.27,0.28,0.29,0.3,0.35,0.4,0.45,0.5,0.55,0.6,0.65,0.7,0.75,0.8,0.85,0.9,0.95,1,1.05,1.1,1.15,1.2,1.25,1.3,1.35,1.4,1.45,1.5,1.55,1.6,1.65,1.7,1.75,1.8,1.85,1.9,1.95,2,2.1,2.2,2.3,2.4,2.5,2.6,2.7,2.8,2.9,3,3.5,4,4.5,5,5.5], "labelOverlap": false, "grid": true, "gridColor": {"condition": {"test": "indexof([0.02,0.03,0.1,0.2,0.3,1,2,3], datum.value) >= 0", "value": "#a6a6a6"}, "value": "#d6d6d6"}, "labelExpr": "indexof([0.02,0.024,0.03,0.04,0.05,0.06,0.07,0.1,0.12,0.14,0.17,0.2,0.23,0.3,0.4,0.5,0.6,0.7,0.8,0.9,1,1.1,1.3,1.5,1.7,2,2.2,2.5,3,4,5], datum.value) >= 0 ? '' + datum.value : ''", "labelColor": {"condition": {"test": "indexof([0.02,0.03,0.1,0.2,0.3,1,2,3], datum.value) >= 0", "value": "#000000"}, "value": "#8c8c8c"}, "labelPadding": 3, "title": "kHz", "titleX": 577, "titleY": 3, "titleAlign": "left", "titleBaseline": "top"}},
     "y": {"field": "db", "type": "quantitative", "scale": {"domain": [-10, 27.65], "nice": false, "zero": false},
      "axis": {"values": [-10,-9,-8,-7,-6,-5,-4,-3,-2,-1,0,1,2,3,4,5,6,7,8,9,10,11,12,13,14,15,16,17,18,19,20,21,22,23,24,25,26,27], "labelOverlap": false, "grid": true, "gridColor": {"condition": [{"test": "datum.value == 20 || datum.value == 10 || datum.value == 0", "value": "#a6a6a6"}, {"test": "abs(datum.value) % 2 == 1", "value": "#ececec"}], "value": "#d4d4d4"}, "labelExpr": "abs(datum.value) % 2 == 1 ? '' : '' + datum.value", "labelColor": {"condition": {"test": "datum.value % 10 == 0", "value": "#000000"}, "value": "#8c8c8c"}, "labelPadding": 3, "title": "dBFS", "titleAngle": 0, "titleX": -14, "titleY": -5, "titleAlign": "left", "titleBaseline": "alphabetic"}},
     "color": {"datum": "Smoothed 1/48", "type": "nominal", "scale": {"range": ["#ff2020"]}, "legend": {"orient": "none", "legendX": 578, "legendY": 1}}
    }}
  ]}
 ]}
]
}
